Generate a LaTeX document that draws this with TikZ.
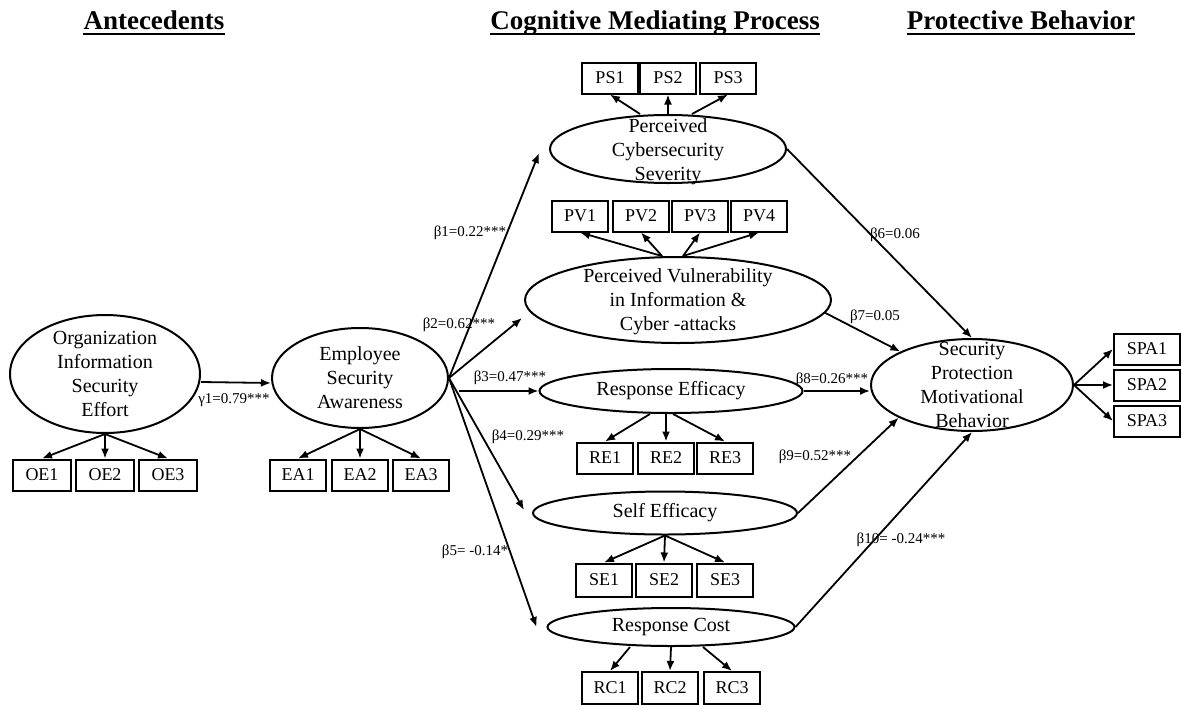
\documentclass[tikz,border=0pt]{standalone}
\usepackage{fontspec}
\setmainfont{Liberation Serif}
\usetikzlibrary{shapes.geometric,arrows.meta}
\begin{document}
\begin{tikzpicture}[x=1pt,y=-1pt,
	latent/.style={draw,ellipse,line width=2pt,inner sep=0pt},
	inside/.style={align=center,inner sep=0pt,font=\fontsize{20}{24}\selectfont},
	item/.style={draw,line width=2pt,minimum width=56pt,minimum height=31pt,inner sep=0pt,font=\fontsize{18}{18}\selectfont},
	path/.style={line width=1.8pt,-{Latex[length=10pt,width=8pt]}},
	coef/.style={inner sep=1pt,font=\fontsize{15}{15}\selectfont},
	head/.style={inner sep=0pt,anchor=base,font=\bfseries\fontsize{27}{27}\selectfont}]
	\useasboundingbox (0,0) rectangle (1182,704);
	\foreach[count=\n] \t/\x in {Antecedents/154,Cognitive Mediating Process/655,Protective Behavior/1021} {
		\node[head] (h\n) at (\x,29) {\t};
		\draw[line width=2.6pt] ([yshift=-5pt]h\n.base west) -- ([yshift=-5pt]h\n.base east);
	}
	\node[latent,minimum width=190pt,minimum height=118pt,label={[inside]center:Organization\\Information\\Security\\Effort}] (oise) at (105,374) {};
	\node[latent,minimum width=176pt,minimum height=100pt,label={[inside]center:Employee\\Security\\Awareness}] (esa) at (360,378) {};
	\node[latent,minimum width=236pt,minimum height=68pt,label={[inside,yshift=-3pt]center:Perceived\\Cybersecurity\\Severity}] (pcs) at (668,149) {};
	\node[latent,minimum width=306pt,minimum height=86pt,label={[inside,yshift=-2pt]center:Perceived Vulnerability\\in Information \&\\Cyber -attacks}] (pvi) at (678,300) {};
	\node[latent,minimum width=263pt,minimum height=44pt,label={[inside]center:Response Efficacy}] (re) at (671,391) {};
	\node[latent,minimum width=264pt,minimum height=43pt,label={[inside]center:Self Efficacy}] (se) at (665,513) {};
	\node[latent,minimum width=247pt,minimum height=38pt,label={[inside]center:Response Cost}] (rc) at (671,627) {};
	\node[latent,minimum width=202pt,minimum height=92pt,label={[inside]center:Security\\Protection\\Motivational\\Behavior}] (spmb) at (972,385) {};
	\foreach \n/\x in {1/42,2/105,3/168} {
		\node[item,minimum width=58pt] (oe\n) at (\x,475) {OE\n};
		\draw[path] (oise.south) -- (oe\n.north);
	}
	\foreach \n/\x in {1/298,2/360,3/421} {
		\node[item] (ea\n) at (\x,475) {EA\n};
		\draw[path] (esa.south) -- (ea\n.north);
	}
	\foreach \n/\x/\s in {1/610/-28,2/668/0,3/728/24} {
		\node[item] (ps\n) at (\x,78) {PS\n};
		\draw[path] ([xshift=\s pt]pcs.north) -- (ps\n.south);
	}
	\foreach \n/\x/\s in {1/580/-16,2/641/-16,3/700/5,4/759/5} {
		\node[item] (pv\n) at (\x,216) {PV\n};
		\draw[path] ([xshift=\s pt]pvi.north) -- (pv\n.south);
	}
	\foreach \n/\x/\s in {1/605/-21,2/666/-5,3/725/2} {
		\node[item] (re\n) at (\x,458) {RE\n};
		\draw[path] ([xshift=\s pt]re.south) -- (re\n.north);
	}
	\foreach \n/\x in {1/604,2/664,3/725} {
		\node[item,minimum height=33pt] (se\n) at (\x,580) {SE\n};
		\draw[path] (se.south) -- (se\n.north);
	}
	\foreach \n/\x/\s in {1/610/-41,2/670/0,3/732/32} {
		\node[item,minimum height=32pt] (rc\n) at (\x,688) {RC\n};
		\draw[path] ([xshift=\s pt]rc.south) -- (rc\n.north);
	}
	\foreach \n/\y in {1/349,2/385,3/421} {
		\node[item,minimum width=66pt] (spa\n) at (1147,\y) {SPA\n};
		\draw[path] (spmb.east) -- (spa\n.west);
	}
	\draw[path] ([yshift=-8pt]oise.east) -- ([yshift=-5pt]esa.west);
	\draw[path] (esa.east) -- ([xshift=-10pt,yshift=-4pt]pcs.west);
	\draw[path] (esa.east) -- ([xshift=-2pt,yshift=-18pt]pvi.west);
	\draw[path,shorten <=10pt] (esa.east |- re.west) -- (re.west);
	\draw[path] (esa.east) -- ([xshift=-8pt,yshift=3pt]se.west);
	\draw[path] (esa.east) -- ([xshift=-10pt]rc.west);
	\draw[path] (pcs.east) -- (spmb.north);
	\draw[path] (pvi.-5) -- (spmb.155);
	\draw[path] (re.east) -- (re.east -| spmb.west);
	\draw[path] (se.east) -- (spmb.204);
	\draw[path] (rc.east) -- (spmb.south);
	\node[coef] (g1) at (234,400) {γ1=0.79***};
	\node[coef] (b1) at (470,233) {β1=0.22***};
	\node[coef] (b2) at (459,325) {β2=0.62***};
	\node[coef] (b3) at (510,378) {β3=0.47***};
	\node[coef] (b4) at (528,437) {β4=0.29***};
	\node[coef] (b5) at (475,552) {β5= -0.14*};
	\node[coef] (b6) at (895,235) {β6=0.06};
	\node[coef] (b7) at (875,317) {β7=0.05};
	\node[coef] (b8) at (832,380) {β8=0.26***};
	\node[coef] (b9) at (815,457) {β9=0.52***};
	\node[coef] (b10) at (901,540) {β10= -0.24***};
\end{tikzpicture}
\end{document}
